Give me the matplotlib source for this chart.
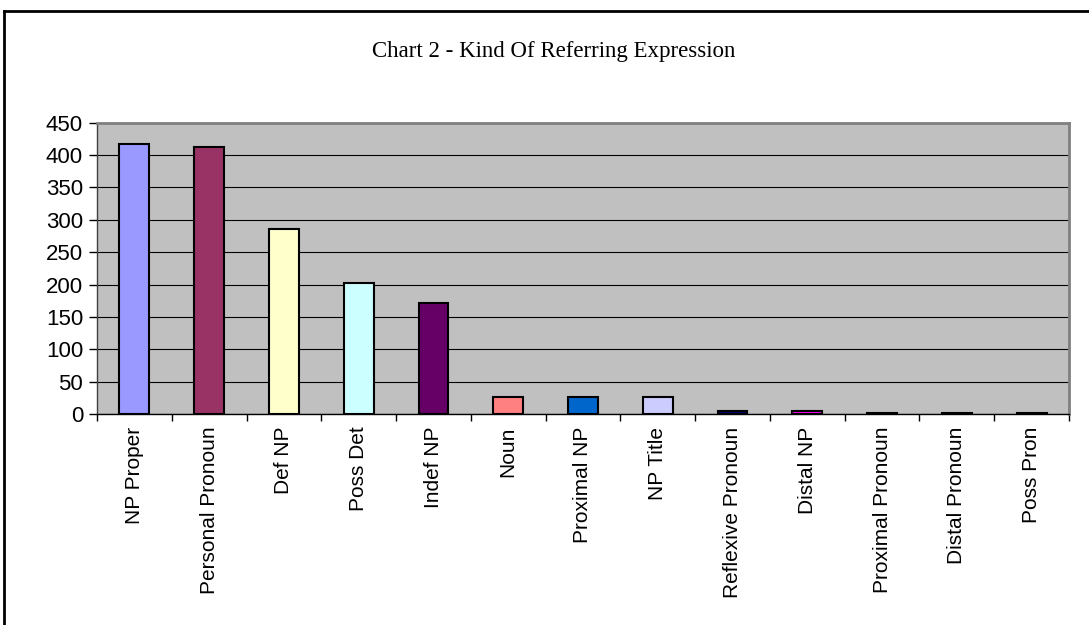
import numpy as np
import matplotlib
matplotlib.use("Agg")
import matplotlib.pyplot as plt
from matplotlib.lines import Line2D

# ---------------------------------------------------
#   Chart data
# ---------------------------------------------------
categories = ['NP Proper', 'Personal Pronoun', 'Def NP', 'Poss Det', 'Indef NP',
              'Noun', 'Proximal NP', 'NP Title', 'Reflexive Pronoun', 'Distal NP',
              'Proximal Pronoun', 'Distal Pronoun', 'Poss Pron']
counts = [417, 412, 286, 202, 172, 27, 27, 27, 5, 5, 2, 2, 2]
bar_colors = ['#9999FF', '#993366', '#FFFFCC', '#CCFFFF', '#660066', '#FF8080',
              '#0066CC', '#CCCCFF', '#000080', '#FF00FF', '#FFFF00', '#00FFFF',
              '#800080']
y_ticks = [0, 50, 100, 150, 200, 250, 300, 350, 400, 450]
title = 'Chart 2 - Kind Of Referring Expression'

plt.rcParams['font.family'] = ['Liberation Sans', 'DejaVu Sans']

fig = plt.figure(figsize=(10.89, 6.25), dpi=100)
ax = fig.add_axes([97 / 1089, 1 - 414 / 625, (1069 - 97) / 1089, (414 - 122.7) / 625])

x = np.arange(len(categories))
ax.bar(x, counts, width=0.4, color=bar_colors, edgecolor='black', linewidth=1.5, zorder=3)

ax.set_facecolor('#C0C0C0')
ax.set_xlim(-0.5, len(categories) - 0.5)
ax.set_ylim(0, 450)
ax.set_yticks(y_ticks)
ax.yaxis.grid(True, color='black', linewidth=0.8, zorder=1)
ax.set_axisbelow(True)

# category ticks sit between the bars, labels under the bars
ax.set_xticks(np.arange(len(categories) + 1) - 0.5)
ax.set_xticklabels([])
ax.set_xticks(x, minor=True)
ax.set_xticklabels(categories, minor=True, rotation=90, va='top', ha='center', fontsize=15)
ax.tick_params(axis='x', which='minor', length=0, pad=9)
ax.tick_params(axis='x', which='major', length=5, width=1, direction='out', color='black')
ax.tick_params(axis='y', length=6, width=1, direction='out', labelsize=16, pad=4)

ax.spines['top'].set_color('#808080')
ax.spines['right'].set_color('#808080')
ax.spines['top'].set_linewidth(2)
ax.spines['right'].set_linewidth(2)
ax.spines['left'].set_color('#404040')
ax.spines['bottom'].set_color('black')
ax.spines['left'].set_linewidth(1)
ax.spines['bottom'].set_linewidth(1)

fig.text(554 / 1089, 1 - 51 / 625, title, ha='center', va='center',
         fontsize=16.5, family=['Liberation Serif', 'DejaVu Serif'])

# outer chart border (top and left edges visible)
fig.add_artist(Line2D([4 / 1089, 1.0], [1 - 11 / 625, 1 - 11 / 625], color='black', linewidth=2))
fig.add_artist(Line2D([4 / 1089, 4 / 1089], [0.0, 1 - 11 / 625], color='black', linewidth=2))

fig.savefig('out.png', dpi=100)
